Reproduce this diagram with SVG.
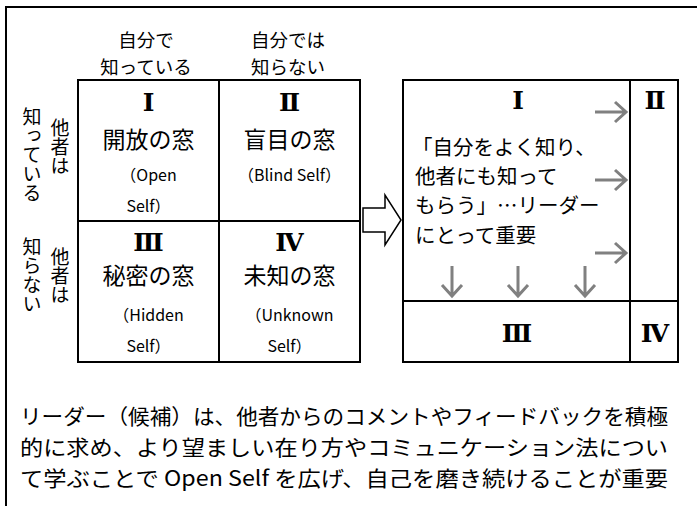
<svg xmlns="http://www.w3.org/2000/svg" width="697" height="506" viewBox="0 0 697 506">
<style>
.jp{font-family:"Noto Sans CJK JP","Noto Sans",sans-serif;fill:#000}
.hd{font-size:18.5px;text-anchor:middle}
.tt{font-size:23px;text-anchor:middle}
.en{font-size:16px;text-anchor:middle}
.num{font-family:"DejaVu Serif","Liberation Serif",serif;font-weight:bold;font-size:25px;text-anchor:middle;fill:#000}
.vt{font-size:19px;writing-mode:vertical-rl;text-orientation:upright}
.box{fill:none;stroke:#000;stroke-width:2}
.ga{fill:none;stroke:#808080;stroke-width:3;stroke-linecap:butt}
.body{font-size:20.5px}
</style>
<rect x="6" y="7" width="700" height="510" class="box"/>
<g id="header">
<text class="jp hd" x="146" y="47">自分で</text>
<text class="jp hd" x="146" y="74">知っている</text>
<text class="jp hd" x="288" y="47">自分では</text>
<text class="jp hd" x="288" y="74">知らない</text>
<text class="jp vt" x="32" y="107">知っている</text>
<text class="jp vt" x="60" y="118">他者は</text>
<text class="jp vt" x="32" y="237">知らない</text>
<text class="jp vt" x="60" y="247">他者は</text>
</g>
<g id="grid-left">
<rect x="78" y="80" width="282" height="282" class="box"/>
<line x1="219" y1="80" x2="219" y2="362" class="box"/>
<line x1="78" y1="221" x2="360" y2="221" class="box"/>
</g>
<g id="cell-1">
<text class="num" x="148.5" y="111">Ⅰ</text>
<text class="jp tt" x="148.5" y="148">開放の窓</text>
<text class="jp en" x="148.5" y="181">（Open</text>
<text class="jp en" x="148.5" y="212">Self）</text>
</g>
<g id="cell-2">
<text class="num" x="289.5" y="111">Ⅱ</text>
<text class="jp tt" x="289.5" y="148">盲目の窓</text>
<text class="jp en" x="289.5" y="181">（Blind Self）</text>
</g>
<g id="cell-3">
<text class="num" x="148.5" y="251">Ⅲ</text>
<text class="jp tt" x="148.5" y="284">秘密の窓</text>
<text class="jp en" x="148.5" y="321">（Hidden</text>
<text class="jp en" x="148.5" y="352">Self）</text>
</g>
<g id="cell-4">
<text class="num" x="289.5" y="251">Ⅳ</text>
<text class="jp tt" x="289.5" y="284">未知の窓</text>
<text class="jp en" x="289.5" y="321">（Unknown</text>
<text class="jp en" x="289.5" y="352">Self）</text>
</g>
<g id="right-box">
<rect x="403" y="80" width="275" height="282" class="box"/>
<line x1="630" y1="80" x2="630" y2="362" class="box"/>
<line x1="403" y1="301" x2="678" y2="301" class="box"/>
<text class="num" x="518" y="109">Ⅰ</text>
<text class="num" x="655" y="109">Ⅱ</text>
<text class="num" x="517" y="342">Ⅲ</text>
<text class="num" x="655" y="342">Ⅳ</text>
<text class="jp body" x="412" y="155">「自分をよく知り、</text>
<text class="jp body" x="415" y="184">他者にも知って</text>
<text class="jp body" x="415" y="213">もらう」…リーダー</text>
<text class="jp body" x="415" y="243">にとって重要</text>
</g>
<g id="connectors">
<polygon points="363,208 385,208 385,195 401,220 385,245 385,232 363,232" fill="#fff" stroke="#000" stroke-width="1.5" stroke-linejoin="miter"/>
<path class="ga" d="M595,112H626M615,102L626,112L615,122"/>
<path class="ga" d="M595,180H626M615,170L626,180L615,190"/>
<path class="ga" d="M595,253H626M615,243L626,253L615,263"/>
<path class="ga" d="M452,266V296M442,285L452,296L462,285"/>
<path class="ga" d="M518,266V296M508,285L518,296L528,285"/>
<path class="ga" d="M585,266V296M575,285L585,296L595,285"/>
</g>
<g id="paragraph">
<text class="jp" font-size="21" x="20" y="424" textLength="648" lengthAdjust="spacingAndGlyphs">リーダー（候補）は、他者からのコメントやフィードバックを積極</text>
<text class="jp" font-size="21" x="20" y="455" textLength="648" lengthAdjust="spacingAndGlyphs">的に求め、より望ましい在り方やコミュニケーション法につい</text>
<text class="jp" font-size="21" x="20" y="486" textLength="648" lengthAdjust="spacingAndGlyphs">て学ぶことで Open Self を広げ、自己を磨き続けることが重要</text>
</g>
</svg>
